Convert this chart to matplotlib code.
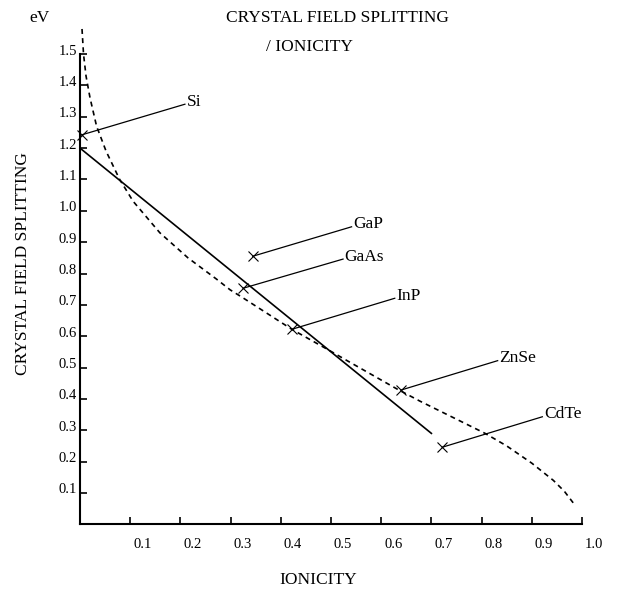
import matplotlib.pyplot as plt
import matplotlib.transforms as mtransforms

plt.rcParams["font.family"] = ["Liberation Serif", "DejaVu Serif"]

# fitted dashed curve (ionicity, splitting in eV)
curve_x = [0.004, 0.007, 0.012, 0.020, 0.033, 0.052, 0.079, 0.106, 0.159, 0.215,
           0.272, 0.299, 0.325, 0.422, 0.505, 0.531, 0.631, 0.677, 0.744, 0.807,
           0.850, 0.900, 0.943, 0.965, 0.986]
curve_y = [1.58, 1.50, 1.43, 1.36, 1.27, 1.19, 1.10, 1.03, 0.93, 0.85,
           0.782, 0.748, 0.722, 0.622, 0.547, 0.523, 0.432, 0.393, 0.340, 0.290,
           0.250, 0.195, 0.140, 0.105, 0.061]

# straight line fit
line_x = [0.0, 0.70]
line_y = [1.20, 0.29]

# materials: marker position and end of leader line
materials = ["Si", "GaP", "GaAs", "InP", "ZnSe", "CdTe"]
ionicity = [0.003, 0.344, 0.325, 0.422, 0.639, 0.722]
splitting = [1.242, 0.855, 0.753, 0.622, 0.428, 0.246]
label_x = [0.209, 0.541, 0.524, 0.627, 0.832, 0.921]
label_y = [1.340, 0.949, 0.846, 0.721, 0.522, 0.343]

x_ticks = [0.1, 0.2, 0.3, 0.4, 0.5, 0.6, 0.7, 0.8, 0.9, 1.0]
y_ticks = [0.1, 0.2, 0.3, 0.4, 0.5, 0.6, 0.7, 0.8, 0.9, 1.0, 1.1, 1.2, 1.3, 1.4, 1.5]

W, H = 618, 592
fig = plt.figure(figsize=(W / 100, H / 100), dpi=100)
ax = fig.add_axes([80 / W, (H - 524.3) / H, 502 / W, (524.3 - 22.7) / H])
ax.set_xlim(0, 1.0)
ax.set_ylim(0, 1.6)

ax.plot(curve_x, curve_y, color="black", lw=1.2, linestyle=(0, (3, 2.5)), clip_on=False)
ax.plot(line_x, line_y, color="black", lw=1.2)

for name, x0, y0, x1, y1 in zip(materials, ionicity, splitting, label_x, label_y):
    ax.plot([x0, x1], [y0, y1], color="black", lw=0.9, clip_on=False)
    ax.plot(x0, y0, marker="x", color="black", markersize=7, mew=0.8, clip_on=False)
    ax.text(x1 + 0.003, y1 - 0.005, name, fontsize=12.5, ha="left", va="baseline")

for side in ["top", "right"]:
    ax.spines[side].set_visible(False)
ax.spines["left"].set_bounds(0, 1.5)
ax.spines["left"].set_linewidth(1.5)
ax.spines["bottom"].set_linewidth(1.5)

ax.set_xticks(x_ticks)
ax.set_xticklabels([f"{v:.1f}" for v in x_ticks])
ax.set_yticks(y_ticks)
ax.set_yticklabels([f"{v:.1f}" for v in y_ticks])
ax.tick_params(axis="x", direction="in", length=5, width=1.2, pad=10, labelsize=10.5)
ax.tick_params(axis="y", direction="in", length=5, width=1.2, pad=2, labelsize=10.5)

shift_x = mtransforms.ScaledTranslation(0.12, 0, fig.dpi_scale_trans)
for lab in ax.get_xticklabels():
    lab.set_transform(lab.get_transform() + shift_x)
shift_y = mtransforms.ScaledTranslation(0, 0.045, fig.dpi_scale_trans)
for lab in ax.get_yticklabels():
    lab.set_transform(lab.get_transform() + shift_y)

fig.text(337 / W, 1 - 18 / H, "CRYSTAL FIELD SPLITTING", fontsize=12.5, ha="center", va="center")
fig.text(310 / W, 1 - 47 / H, "/ IONICITY", fontsize=12.5, ha="center", va="center")
fig.text(40 / W, 1 - 18 / H, "eV", fontsize=12.5, ha="center", va="center")
fig.text(23 / W, 1 - 264 / H, "CRYSTAL FIELD SPLITTING", fontsize=12.5, ha="center",
         va="center", rotation=90)
fig.text(318 / W, 1 - 580 / H, "IONICITY", fontsize=12.5, ha="center", va="center")

fig.savefig("out.png", dpi=100)
plt.close()
